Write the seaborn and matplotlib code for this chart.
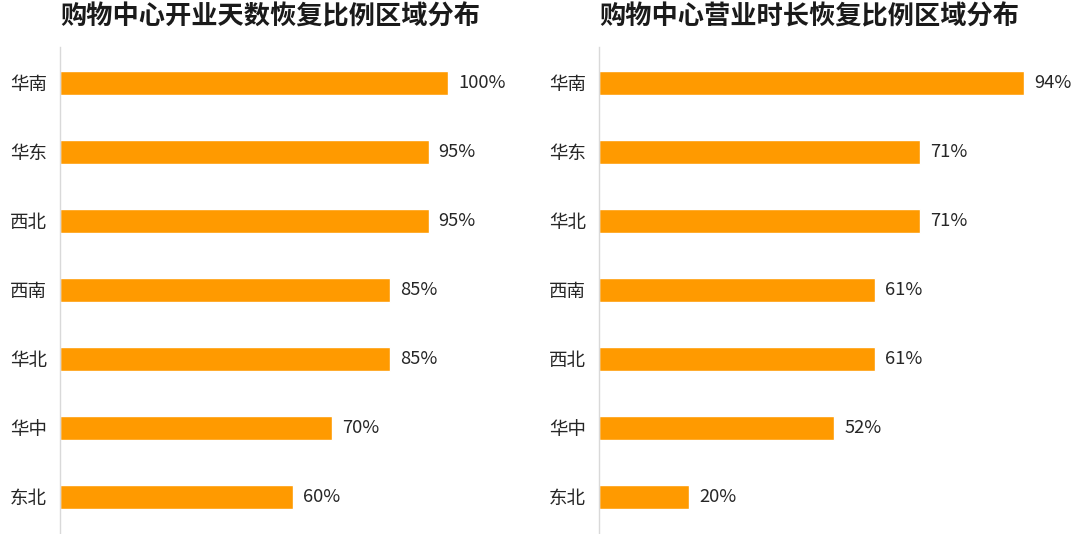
import matplotlib
matplotlib.use("Agg")
import matplotlib.pyplot as plt
import seaborn as sns
import pandas as pd

left_title = "购物中心开业天数恢复比例区域分布"
left_regions = ["华南", "华东", "西北", "西南", "华北", "华中", "东北"]
left_values = [100, 95, 95, 85, 85, 70, 60]

right_title = "购物中心营业时长恢复比例区域分布"
right_regions = ["华南", "华东", "华北", "西南", "西北", "华中", "东北"]
right_values = [94, 71, 71, 61, 61, 52, 20]

sns.set_theme(style="white")
plt.rcParams['font.family'] = ['Noto Sans CJK SC', 'DejaVu Sans']

BAR = "#FF9A00"
TXT = "#262626"

fig = plt.figure(figsize=(10.8, 5.34), dpi=100)

def panel(rect, regions, values, xmax, title, title_x):
    ax = fig.add_axes(rect)
    df = pd.DataFrame({"region": regions, "value": values})
    sns.barplot(data=df, x="value", y="region", orient="h", color=BAR,
                width=0.35, saturation=1, ax=ax)
    ax.set_xlim(0, xmax)
    ax.set_ylim(6.54, -0.52)
    for s in ["top", "right", "bottom"]:
        ax.spines[s].set_visible(False)
    ax.spines["left"].set_color("#d9d9d9")
    ax.spines["left"].set_linewidth(1.0)
    ax.set_xticks([])
    ax.set_xlabel("")
    ax.set_ylabel("")
    ax.tick_params(axis="y", length=0, pad=9.5, labelsize=13.3, labelcolor=TXT)
    ax.bar_label(ax.containers[0], labels=[f"{v}%" for v in values],
                 padding=7.3, fontsize=13.2, color=TXT)
    fig.text(title_x, 1 - 17 / 534, title, ha="left", va="center",
             fontsize=18.9, fontweight="bold", color="#1a1a1a")
    return ax

panel([60 / 1080, 0, 460 / 1080, 487 / 534], left_regions, left_values,
      460 / 3.88, left_title, 60 / 1080)
panel([599 / 1080, 0, 476 / 1080, 487 / 534], right_regions, right_values,
      476 / 4.52, right_title, 599 / 1080)

fig.savefig("out.png", dpi=100)
